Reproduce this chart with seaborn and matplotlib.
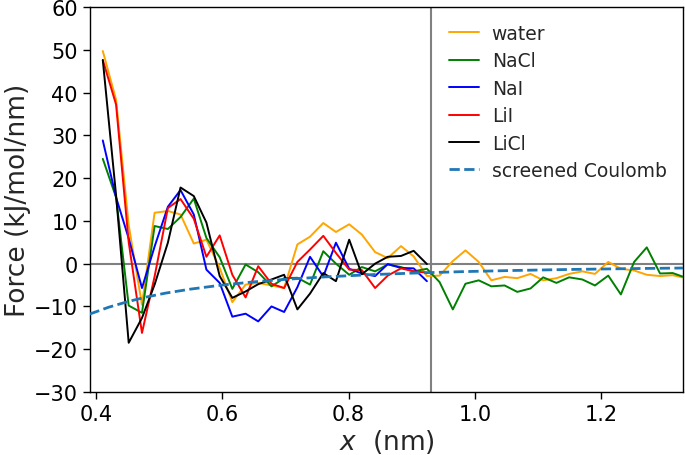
import numpy as np
import pandas as pd
import matplotlib
matplotlib.use("Agg")
import matplotlib.pyplot as plt
import seaborn as sns

# ---- data ----
x_grid = [0.411, 0.432, 0.452, 0.473, 0.493, 0.514, 0.534, 0.555, 0.575, 0.596,
          0.616, 0.637, 0.657, 0.678, 0.698, 0.719, 0.739, 0.760, 0.780, 0.801,
          0.821, 0.842, 0.862, 0.883, 0.903, 0.924, 0.944, 0.965, 0.985, 1.006,
          1.026, 1.047, 1.067, 1.088, 1.108, 1.129, 1.149, 1.170, 1.190, 1.211,
          1.231, 1.252, 1.272, 1.293, 1.313, 1.334]

water = [49.7, 38.3, 9.0, -9.6, 11.9, 12.3, 11.5, 4.7, 5.6, -1.0,
         -9.0, -4.9, -4.5, -5.1, -5.7, 4.5, 6.3, 9.5, 7.4, 9.2,
         6.8, 2.7, 1.3, 4.1, 1.7, -2.9, -2.8, 0.6, 3.1, 0.4,
         -3.9, -3.1, -3.4, -2.4, -3.9, -3.4, -2.4, -1.8, -2.4, 0.4,
         -1.2, -1.6, -2.6, -2.9, -2.7, -3.4]

nacl = [24.5, 15.5, -9.8, -11.5, 8.8, 8.1, 10.9, 15.2, 6.0, 1.5,
        -5.9, -0.2, -2.0, -5.3, -3.4, -3.3, -4.9, 2.9, 0.0, -2.6,
        -0.8, -1.8, -0.2, -0.8, -1.8, -1.2, -4.3, -10.7, -4.7, -3.9,
        -5.3, -5.1, -6.6, -5.8, -3.2, -4.5, -3.2, -3.7, -5.1, -2.8,
        -7.2, 0.4, 3.8, -2.3, -2.2, -3.3]

nai = [28.8, 15.5, 5.9, -5.7, 4.0, 13.3, 17.2, 11.5, -1.4, -4.5,
       -12.4, -11.7, -13.5, -10.0, -11.3, -5.5, 1.6, -3.0, 4.9, -1.2,
       -2.3, -2.9, -0.1, -1.0, -1.1, -4.1]

lii = [47.6, 37.2, 5.0, -16.2, -3.0, 13.0, 15.1, 10.5, 1.6, 6.6,
       -2.6, -7.9, -0.6, -4.7, -5.7, 0.4, 3.3, 6.5, 2.5, -1.4,
       -1.5, -5.7, -2.8, -1.1, -1.8, -2.1]

licl = [47.6, 16.0, -18.5, -12.7, -4.9, 4.9, 17.8, 15.8, 9.6, -2.9,
        -8.0, -6.5, -4.8, -3.7, -2.6, -10.7, -7.0, -2.2, -4.1, 5.6,
        -2.5, 0.0, 1.6, 1.8, 3.0, -0.1]

coul_x = [0.39, 0.42, 0.45, 0.48, 0.51, 0.55, 0.60, 0.65, 0.70, 0.76,
          0.83, 0.90, 0.98, 1.06, 1.15, 1.24, 1.33]
coul_y = [-11.8, -10.2, -8.9, -7.8, -6.9, -5.95, -5.0, -4.26, -3.67, -3.12,
          -2.61, -2.22, -1.87, -1.60, -1.36, -1.17, -1.02]

series = [("water", water, "orange"),
          ("NaCl", nacl, "green"),
          ("NaI", nai, "blue"),
          ("LiI", lii, "red"),
          ("LiCl", licl, "black")]

sns.set_style("ticks")
plt.rcParams["font.family"] = ["DejaVu Sans"]

fig = plt.figure(figsize=(6.85, 4.56), dpi=100)
ax = fig.add_axes([0.1307, 0.1382, 0.867, 0.8443])

ax.axhline(0, color="gray", lw=1.5, zorder=1)
ax.axvline(0.93, color="gray", lw=1.5, zorder=1)

for name, vals, col in series:
    sns.lineplot(x=x_grid[:len(vals)], y=vals, color=col, lw=1.4,
                 label=name, ax=ax, zorder=3)

sns.lineplot(x=coul_x, y=coul_y, color="#1f77b4", lw=2.0, ls="--",
             label="screened Coulomb", ax=ax, zorder=4)

ax.set_xlim(0.39, 1.33)
ax.set_ylim(-30, 60)
ax.set_xticks([0.4, 0.6, 0.8, 1.0, 1.2])
ax.set_yticks(np.arange(-30, 61, 10))
ax.tick_params(labelsize=15, width=1, length=5, direction="out", colors="black")
for s in ax.spines.values():
    s.set_visible(True)
    s.set_linewidth(1.0)
    s.set_color("black")

ax.set_xlabel("$x$  (nm)", fontsize=19, labelpad=2)
ax.set_ylabel("Force (kJ/mol/nm)", fontsize=19, labelpad=2)

ax.legend(loc="upper right", frameon=False, fontsize=13.5,
          handlelength=1.6, handletextpad=0.7, labelspacing=0.45)

fig.savefig("out.png", dpi=100)
